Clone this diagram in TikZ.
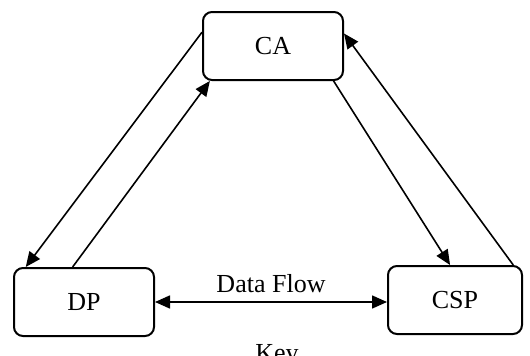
\documentclass[tikz,border=0pt]{standalone}
\usepackage{fontspec}
\setmainfont{Liberation Serif}
\usepackage{tikz}
\usetikzlibrary{arrows.meta, positioning, calc}

\tikzset{
  party/.style={draw, line width=2pt, rounded corners=9pt, minimum height=68pt, inner sep=0pt, font=\fontsize{26}{30}\selectfont},
  flow/.style={line width=1.6pt, -{Triangle[length=15pt, width=13pt]}}
}

\begin{document}
\begin{tikzpicture}[x=1pt, y=-1pt]
\clip (0,0) rectangle (530,356);
\useasboundingbox (0,0) rectangle (530,356);
% the three parties
\node[party, minimum width=140pt] (ca) at (273,46) {CA};
\node[party, minimum width=140pt] (dp) at (84,302) {DP};
\node[party, minimum width=134pt] (csp) at (455,300) {CSP};
% arrows between CA and DP
\draw[flow] (ca.169.5) -- (dp.149);
\draw[flow] (dp.108) -- (ca.209);
% arrows between CA and CSP
\draw[flow] (ca.330.6) -- (csp.98);
\draw[flow] (csp.31.5) -- (ca.10.2);
% data flow
\draw[flow, {Triangle[length=15pt, width=13pt]}-{Triangle[length=15pt, width=13pt]}] (dp.east) -- (dp.east -| csp.west) node[midway, above=5pt, font=\fontsize{26}{30}\selectfont] (df) {Data Flow};
\node[anchor=base, font=\fontsize{26}{30}\selectfont] (key) at (277,361) {Key};
\end{tikzpicture}
\end{document}
